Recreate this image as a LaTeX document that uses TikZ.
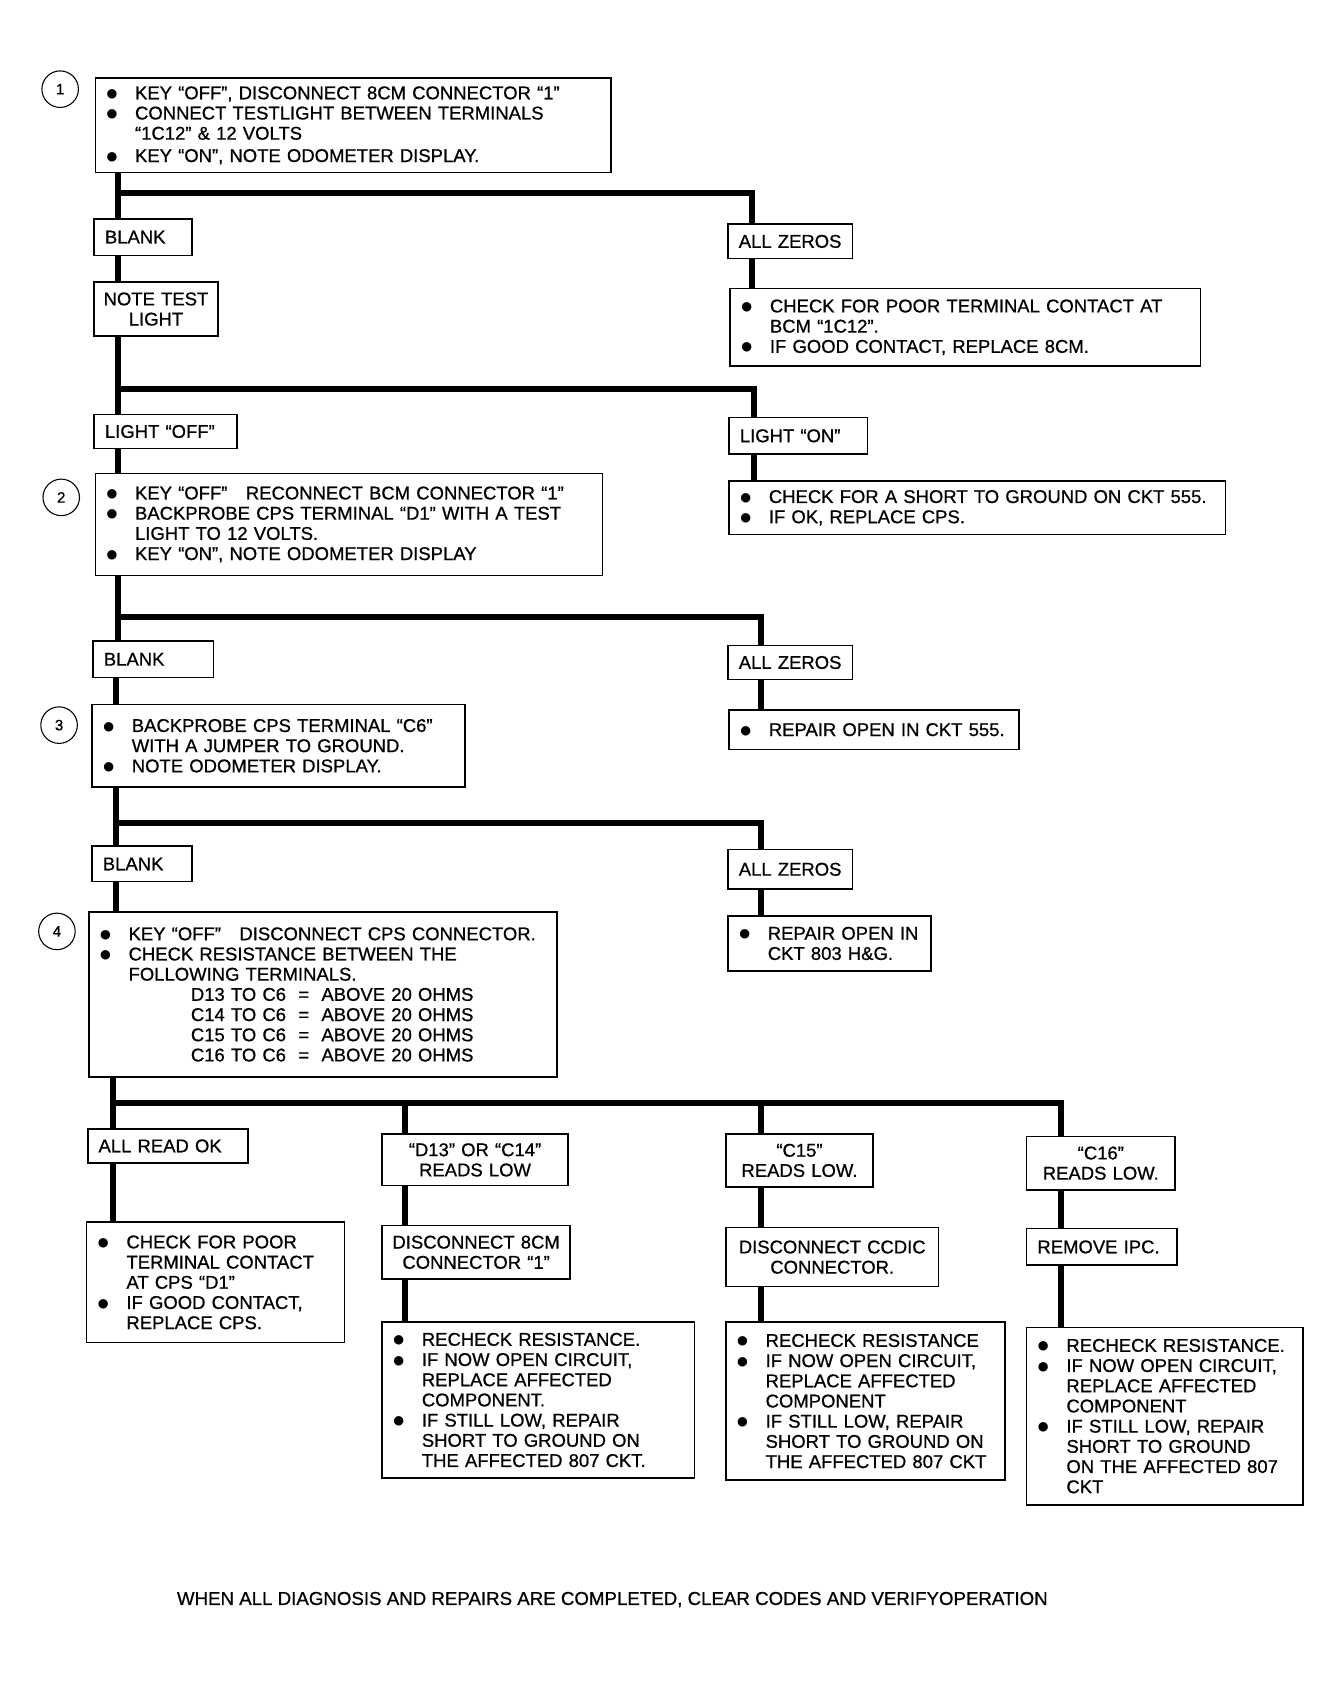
\documentclass[tikz,border=0pt]{standalone}
\usepackage{fontspec}
\setmainfont{Liberation Sans}[Ligatures=TeX,FakeBold=0.8]
\newfontfamily\dvfont{DejaVu Sans}
\hyphenpenalty=10000 \exhyphenpenalty=10000
\newcommand\txt{\fontsize{17.2}{18.8}\selectfont}
\newcommand\bu{\makebox[27pt][l]{\hspace{0.5pt}\raisebox{1.8pt}{\dvfont\fontsize{11.5}{12}\selectfont ●}}}
\newcommand\ind{\hspace*{27pt}}
\newcommand\indd{\hspace*{85pt}}
\tikzset{
  box/.style={draw, line width=1.4pt, anchor=north west, inner xsep=10pt, inner ysep=0pt, align=left, font=\txt},
  cbox/.style={box, align=center, inner xsep=4pt},
  conn/.style={line width=5.5pt},
  num/.style={draw, circle, line width=1pt, minimum size=34pt, inner sep=0pt, font=\fontsize{14}{16}\selectfont},
}
\begin{document}
\begin{tikzpicture}[x=1pt,y=-1pt]
\useasboundingbox (0,0) rectangle (1247.5,1568.5);
% step numbers
\node[num] (n1) at (56,83) {1};
\node[num] (n2) at (57,463) {2};
\node[num] (n3) at (55,675) {3};
\node[num] (n4) at (53,867) {4};
% step 1
\node[box, text width=460pt, minimum height=88pt] (s1) at (88,72)
 {\bu KEY ``OFF'', DISCONNECT 8CM CONNECTOR ``1''\\
  \bu CONNECT TESTLIGHT BETWEEN TERMINALS\\
  \ind ``1C12'' \& 12 VOLTS\\[2pt]
  \bu KEY ``ON'', NOTE ODOMETER DISPLAY.};
\node[box, text width=71pt, minimum height=34pt] (b1) at (87,203) {BLANK};
\node[box, text width=96pt, minimum height=32pt] (z1) at (677,208) {ALL ZEROS};
\node[cbox, text width=107pt, minimum height=50pt] (nt) at (87,262) {NOTE TEST\\LIGHT};
\node[box, text width=418pt, minimum height=72pt] (c1) at (679,268)
 {\bu CHECK FOR POOR TERMINAL CONTACT AT\\
  \ind BCM ``1C12''.\\
  \bu IF GOOD CONTACT, REPLACE 8CM.};
\node[box, text width=113pt, minimum height=32pt] (lo) at (87,385) {LIGHT ``OFF''};
\node[box, text width=109pt, minimum height=34pt] (ln) at (678,388) {LIGHT ``ON''};
\node[box, text width=442pt, minimum height=50pt] (c2) at (678,447)
 {\bu CHECK FOR A SHORT TO GROUND ON CKT 555.\\
  \bu IF OK, REPLACE CPS.};
% step 2
\node[box, text width=452pt, minimum height=95pt] (s2) at (88,440)
 {\bu KEY ``OFF'' \ \ RECONNECT BCM CONNECTOR ``1''\\
  \bu BACKPROBE CPS TERMINAL ``D1'' WITH A TEST\\
  \ind LIGHT TO 12 VOLTS.\\
  \bu KEY ``ON'', NOTE ODOMETER DISPLAY};
\node[box, text width=92pt, minimum height=34pt] (b2) at (86,596) {BLANK};
\node[box, text width=96pt, minimum height=32pt] (z2) at (677,600) {ALL ZEROS};
\node[box, text width=250pt, minimum height=37pt] (r2) at (678,660)
 {\bu REPAIR OPEN IN CKT 555.};
% step 3
\node[box, text width=327pt, minimum height=77pt] (s3) at (85,655)
 {\bu BACKPROBE CPS TERMINAL ``C6''\\
  \ind WITH A JUMPER TO GROUND.\\
  \bu NOTE ODOMETER DISPLAY.};
\node[box, text width=73pt, minimum height=33pt] (b3) at (85,787) {BLANK};
\node[box, text width=96pt, minimum height=37pt] (z3) at (677,790) {ALL ZEROS};
\node[box, text width=169pt, minimum height=51pt] (r3) at (677,852)
 {\bu REPAIR OPEN IN\\
  \ind CKT 803 H\&G.};
% step 4
\node[box, text width=416pt, minimum height=154pt] (s4) at (82,848)
 {\bu KEY ``OFF'' \ \ DISCONNECT CPS CONNECTOR.\\
  \bu CHECK RESISTANCE BETWEEN THE\\
  \ind FOLLOWING TERMINALS.\\
  \indd D13 TO C6 \ = \ ABOVE 20 OHMS\\
  \indd C14 TO C6 \ = \ ABOVE 20 OHMS\\
  \indd C15 TO C6 \ = \ ABOVE 20 OHMS\\
  \indd C16 TO C6 \ = \ ABOVE 20 OHMS};
\node[box, text width=129pt, minimum height=32pt] (ok) at (81,1050) {ALL READ OK};
\node[cbox, text width=165pt, minimum height=48pt] (d13) at (355,1055) {``D13'' OR ``C14''\\READS LOW};
\node[cbox, text width=129pt, minimum height=49pt] (c15) at (675,1055) {``C15''\\READS LOW.};
\node[cbox, text width=130pt, minimum height=50pt] (c16) at (955,1057) {``C16''\\READS LOW.};
\node[box, text width=220pt, minimum height=112pt] (c3) at (80,1137)
 {\bu CHECK FOR POOR\\
  \ind TERMINAL CONTACT\\
  \ind AT CPS ``D1''\\
  \bu IF GOOD CONTACT,\\
  \ind REPLACE CPS.};
\node[cbox, text width=167pt, minimum height=50pt] (dc1) at (355,1140) {DISCONNECT 8CM\\CONNECTOR ``1''};
\node[cbox, text width=190pt, minimum height=55pt] (dc2) at (675,1142) {DISCONNECT CCDIC\\CONNECTOR.};
\node[box, text width=120pt, minimum height=34pt] (rip) at (955,1143) {REMOVE IPC.};
\node[box, text width=271pt, minimum height=145pt] (rc1) at (355,1230)
 {\bu RECHECK RESISTANCE.\\
  \bu IF NOW OPEN CIRCUIT,\\
  \ind REPLACE AFFECTED\\
  \ind COMPONENT.\\
  \bu IF STILL LOW, REPAIR\\
  \ind SHORT TO GROUND ON\\
  \ind THE AFFECTED 807 CKT.};
\node[box, text width=240pt, minimum height=147pt] (rc2) at (675,1230)
 {\bu RECHECK RESISTANCE\\
  \bu IF NOW OPEN CIRCUIT,\\
  \ind REPLACE AFFECTED\\
  \ind COMPONENT\\
  \bu IF STILL LOW, REPAIR\\
  \ind SHORT TO GROUND ON\\
  \ind THE AFFECTED 807 CKT};
\node[box, text width=237pt, minimum height=165pt] (rc3) at (955,1235)
 {\bu RECHECK RESISTANCE.\\
  \bu IF NOW OPEN CIRCUIT,\\
  \ind REPLACE AFFECTED\\
  \ind COMPONENT\\
  \bu IF STILL LOW, REPAIR\\
  \ind SHORT TO GROUND\\
  \ind ON THE AFFECTED 807\\
  \ind CKT};
\node[font=\fontsize{17.4}{20}\selectfont, inner sep=0pt] (foot) at (570,1489)
 {WHEN ALL DIAGNOSIS AND REPAIRS ARE COMPLETED, CLEAR CODES AND VERIFYOPERATION};
% junctions
\coordinate (j1) at (110,180); \coordinate (k1) at (700,180);
\coordinate (j2) at (110,362); \coordinate (k2) at (702,362);
\coordinate (j3) at (110,574); \coordinate (k3) at (708,574);
\coordinate (j4) at (108,766); \coordinate (k4) at (708,766);
\coordinate (j5) at (105,1027); \coordinate (k5a) at (377,1027);
\coordinate (k5b) at (708,1027); \coordinate (k5c) at (988,1027);
% connectors
\draw[conn] (s1.south -| j1) -- (b1.north -| j1);
\draw[conn] (j1) -- (k1) -- (z1.north -| k1);
\draw[conn] (z1.south -| k1) -- (c1.north -| k1);
\draw[conn] (b1.south -| j1) -- (nt.north -| j1);
\draw[conn] (nt.south -| j2) -- (lo.north -| j2);
\draw[conn] (j2) -- (k2) -- (ln.north -| k2);
\draw[conn] (ln.south -| k2) -- (c2.north -| k2);
\draw[conn] (lo.south -| j2) -- (s2.north -| j2);
\draw[conn] (s2.south -| j3) -- (b2.north -| j3);
\draw[conn] (j3) -- (k3) -- (z2.north -| k3);
\draw[conn] (z2.south -| k3) -- (r2.north -| k3);
\draw[conn] (b2.south -| j4) -- (s3.north -| j4);
\draw[conn] (s3.south -| j4) -- (b3.north -| j4);
\draw[conn] (j4) -- (k4) -- (z3.north -| k4);
\draw[conn] (z3.south -| k4) -- (r3.north -| k4);
\draw[conn] (b3.south -| j4) -- (s4.north -| j4);
\draw[conn] (s4.south -| j5) -- (ok.north -| j5);
\draw[conn] (j5) -- (k5c) -- (c16.north -| k5c);
\draw[conn] (k5a) -- (d13.north -| k5a);
\draw[conn] (k5b) -- (c15.north -| k5b);
\draw[conn] (ok.south -| j5) -- (c3.north -| j5);
\draw[conn] (d13.south -| k5a) -- (dc1.north -| k5a);
\draw[conn] (dc1.south -| k5a) -- (rc1.north -| k5a);
\draw[conn] (c15.south -| k5b) -- (dc2.north -| k5b);
\draw[conn] (dc2.south -| k5b) -- (rc2.north -| k5b);
\draw[conn] (c16.south -| k5c) -- (rip.north -| k5c);
\draw[conn] (rip.south -| k5c) -- (rc3.north -| k5c);
\end{tikzpicture}
\end{document}
